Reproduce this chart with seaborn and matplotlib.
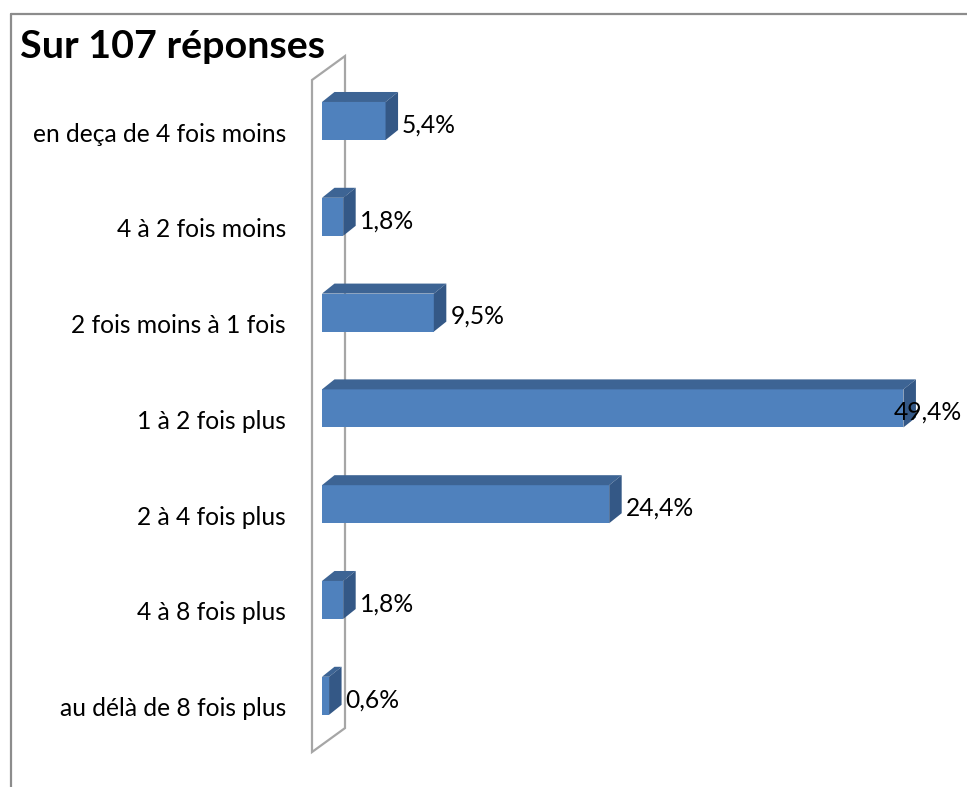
import matplotlib
matplotlib.use("Agg")
import matplotlib.pyplot as plt
import matplotlib.transforms as mtransforms
from matplotlib.patches import Polygon
from matplotlib.lines import Line2D
import seaborn as sns
import pandas as pd

# Survey answers (share of 107 responses, %)
categories = [
    "en deça de 4 fois moins",
    "4 à 2 fois moins",
    "2 fois moins à 1 fois",
    "1 à 2 fois plus",
    "2 à 4 fois plus",
    "4 à 8 fois plus",
    "au délà de 8 fois plus",
]
shares = [5.4, 1.8, 9.5, 49.4, 24.4, 1.8, 0.6]
value_labels = ["5,4%", "1,8%", "9,5%", "49,4%", "24,4%", "1,8%", "0,6%"]
title = "Sur 107 réponses"

df = pd.DataFrame({"categorie": categories, "part": shares})

sns.set_theme(style="white")
plt.rcParams["font.family"] = ["Lato", "DejaVu Sans"]

W, H, DPI = 967, 787, 100
fig = plt.figure(figsize=(W / DPI, H / DPI), dpi=DPI)
fig.patch.set_facecolor("white")

# plot area: x in %, y in category index
px_per_pct = 11.77
px_per_cat = 95.8
x0_px, y0_px = 322, 121
ax = fig.add_axes([x0_px / W, 0, (W - x0_px) / W, 1])
ax.patch.set_alpha(0)
for s in ax.spines.values():
    s.set_visible(False)

front = "#4F81BD"
top_col = "#3D6494"
side_col = "#345886"

sns.barplot(data=df, x="part", y="categorie", orient="y", color=front,
            width=0.397, saturation=1, ax=ax, zorder=3, linewidth=0)

ax.set_xlim(0, (W - x0_px) / px_per_pct)
ax.set_ylim((H - y0_px) / px_per_cat, -y0_px / px_per_cat)

# 3-D depth of each bar
dx = 12.5 / px_per_pct
dy = -10 / px_per_cat

# back wall of the chart
wall_col = "#A6A6A6"
fx, bx = -10 / px_per_pct, 23 / px_per_pct
ft, fb = -0.428, 6.587
wall = Polygon([(fx, ft), (bx, ft - 0.25), (bx, fb - 0.25), (fx, fb)],
               closed=True, fill=False, edgecolor=wall_col, linewidth=1.6,
               clip_on=False, zorder=1)
ax.add_patch(wall)

for p in ax.patches[:len(categories)]:
    x, y, w, h = p.get_x(), p.get_y(), p.get_width(), p.get_height()
    yt = y  # top edge (smaller index = higher on screen)
    top = Polygon([(x, yt), (x + dx, yt + dy), (x + w + dx, yt + dy), (x + w, yt)],
                  closed=True, facecolor=top_col, edgecolor="none", zorder=3)
    side = Polygon([(x + w, yt), (x + w + dx, yt + dy), (x + w + dx, yt + h + dy), (x + w, yt + h)],
                   closed=True, facecolor=side_col, edgecolor="none", zorder=3)
    ax.add_patch(top)
    ax.add_patch(side)

# category labels
ax.set_xticks([])
ax.set_yticks(range(len(categories)))
ax.set_yticklabels(categories, fontsize=17.7, color="#000000")
ax.tick_params(axis="y", length=0, pad=26)
ax.set_ylabel("")
ax.set_xlabel("")
shift = mtransforms.ScaledTranslation(0, -11 / DPI, fig.dpi_scale_trans)
for lab in ax.get_yticklabels():
    lab.set_transform(lab.get_transform() + shift)

# value labels beside each bar, kept inside the figure
fig.canvas.draw()
renderer = fig.canvas.get_renderer()
right_limit = (W - 5 - x0_px) / px_per_pct
for i, (v, txt) in enumerate(zip(shares, value_labels)):
    t = ax.text(v + dx + 4 / px_per_pct, i + 0.04, txt, fontsize=17.7,
                ha="left", va="center", color="#000000", zorder=5)
    bb = t.get_window_extent(renderer)
    if bb.x1 > W - 5:
        t.set_ha("right")
        t.set_x(right_limit)

# title
fig.text(20 / W, 1 - 46 / H, title, fontsize=28.4, fontweight="bold",
         ha="left", va="center", color="#000000")

# chart frame (top and left edges)
frame_col = "#8C8C8C"
fig.add_artist(Line2D([11 / W, 1], [1 - 13.5 / H, 1 - 13.5 / H], color=frame_col, lw=1.6))
fig.add_artist(Line2D([11 / W, 11 / W], [0, 1 - 13.5 / H], color=frame_col, lw=1.6))

fig.savefig("out.png", dpi=DPI, facecolor="white")
